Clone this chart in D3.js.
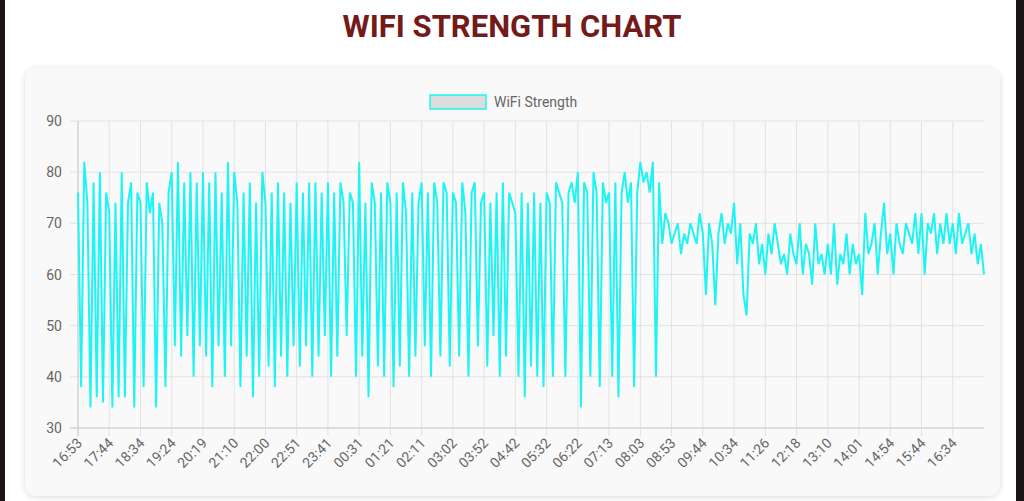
<!DOCTYPE html>
<html>
<head>
<script src="https://cdn.jsdelivr.net/npm/d3@7"></script>
<style>
  body { margin: 0; background: #fff; font-family: Roboto, "Open Sans", sans-serif; }
</style>
</head>
<body>
<svg id="chart" width="1024" height="501"></svg>
<script>
// signal strength readings, one per sample
var strength = [
  76,38,82,74,34,78,36,80,35,76, 72,34,74,36,80,36,74,78,34,76,
  74,38,78,72,76,34,74,70,38,76, 80,46,82,44,78,48,80,40,78,46,
  80,44,78,38,80,46,76,40,82,46, 80,74,38,76,44,78,36,74,40,80,
  74,42,76,38,78,44,76,40,74,46, 78,42,76,46,78,40,78,44,76,48,
  78,40,76,44,78,74,48,76,74,40, 82,44,74,36,78,74,42,76,40,78,
  74,38,76,42,78,72,40,76,44,74, 78,46,76,40,78,74,44,78,76,42,
  76,74,44,78,72,40,76,78,46,74, 76,42,74,48,76,40,78,44,76,74,
  72,40,76,36,74,42,76,40,74,38, 76,74,40,78,76,74,40,76,78,74,
  80,34,78,76,40,80,76,38,78,74, 76,40,78,36,76,80,74,78,38,76,
  82,78,80,76,82,40,78,66,72,70, 66,68,70,64,68,66,70,68,66,72,
  68,56,70,66,54,68,72,66,70,68, 74,62,70,56,52,68,66,70,62,66,
  60,68,64,70,66,62,64,60,68,64, 62,70,60,66,64,58,70,62,64,60,
  66,60,70,58,64,62,68,60,66,62, 64,56,72,64,66,70,60,68,74,64,
  68,60,70,66,64,70,68,66,72,64, 72,60,70,68,72,64,70,66,72,66,
  70,64,72,66,68,70,64,68,62,66,60
];
// tick labels, shown every 10th sample
var tickLabels = ["16:53","17:44","18:34","19:24","20:19","21:10","22:00","22:51","23:41","00:31",
  "01:21","02:11","03:02","03:52","04:42","05:32","06:22","07:13","08:03","08:53",
  "09:44","10:34","11:26","12:18","13:10","14:01","14:54","15:44","16:34"];
var yTicks = [30, 40, 50, 60, 70, 80, 90];

var svg = d3.select("#chart");

// dark side edges
svg.append("rect").attr("x", 0).attr("y", 0).attr("width", 5).attr("height", 501).attr("fill", "#1a1414");
svg.append("rect").attr("x", 1016).attr("y", 0).attr("width", 8).attr("height", 501).attr("fill", "#1a1414");

svg.append("text")
    .attr("x", 512).attr("y", 37)
    .attr("text-anchor", "middle")
    .style("font", "bold 31px Roboto")
    .style("fill", "#741a1a")
    .text("WIFI STRENGTH CHART");

var defs = svg.append("defs");
var f = defs.append("filter").attr("id", "sh").attr("x", "-5%").attr("y", "-5%").attr("width", "110%").attr("height", "115%");
f.append("feDropShadow").attr("dx", 0).attr("dy", 1).attr("stdDeviation", 3).attr("flood-color", "#000").attr("flood-opacity", 0.15);

svg.append("rect")
    .attr("x", 25).attr("y", 68).attr("width", 975).attr("height", 428)
    .attr("rx", 12)
    .attr("fill", "#f9f9f9")
    .attr("filter", "url(#sh)");

var pLeft = 78, pRight = 984, pTop = 121, pBottom = 428;

var x = d3.scaleLinear().domain([0, strength.length - 1]).range([pLeft, pRight]);
var y = d3.scaleLinear().domain([30, 90]).range([pBottom, pTop]);

// grid
svg.append("g").selectAll("line")
    .data(yTicks).enter().append("line")
    .attr("x1", pLeft - 8).attr("x2", pRight)
    .attr("y1", d => y(d)).attr("y2", d => y(d))
    .attr("stroke", "#e2e2e2");
svg.append("g").selectAll("line")
    .data(tickLabels).enter().append("line")
    .attr("x1", (d, i) => x(i * 10)).attr("x2", (d, i) => x(i * 10))
    .attr("y1", pTop).attr("y2", pBottom + 8)
    .attr("stroke", "#e2e2e2");
svg.append("line").attr("x1", pLeft).attr("x2", pLeft).attr("y1", pTop).attr("y2", pBottom + 8).attr("stroke", "#ccc");
svg.append("line").attr("x1", pLeft - 8).attr("x2", pRight).attr("y1", pBottom).attr("y2", pBottom).attr("stroke", "#ccc");

svg.append("g").selectAll("text")
    .data(yTicks).enter().append("text")
    .attr("x", 62).attr("y", d => y(d) + 5)
    .attr("text-anchor", "end")
    .style("font", "14px Roboto")
    .style("fill", "#666")
    .text(d => d);

svg.append("g").selectAll("text")
    .data(tickLabels).enter().append("text")
    .attr("transform", (d, i) => "translate(" + (x(i * 10) + 5) + "," + (pBottom + 16) + ") rotate(-45)")
    .attr("text-anchor", "end")
    .style("font", "14px Roboto")
    .style("fill", "#666")
    .text(d => d);

var line = d3.line()
    .x((d, i) => x(i))
    .y(d => y(d));

svg.append("path")
    .datum(strength)
    .attr("d", line)
    .attr("fill", "none")
    .attr("stroke", "#1ef4f4")
    .attr("stroke-width", 2);

// legend
svg.append("rect")
    .attr("x", 430).attr("y", 95).attr("width", 56).attr("height", 14)
    .attr("fill", "#dcdcdc").attr("stroke", "#1ef4f4").attr("stroke-width", 1.5);
svg.append("text")
    .attr("x", 494).attr("y", 107)
    .style("font", "14px Roboto")
    .style("fill", "#666")
    .text("WiFi Strength");
</script>
</body>
</html>
